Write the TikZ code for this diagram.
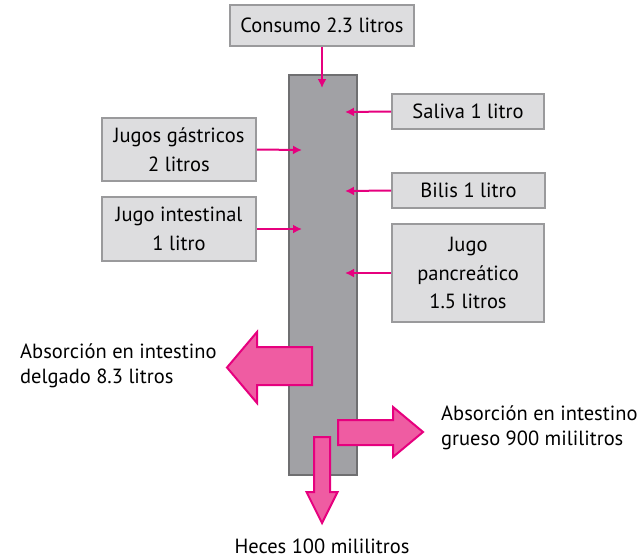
\documentclass[tikz,border=0pt]{standalone}
\usepackage{fontspec}
\setmainfont{PT Sans}
\usetikzlibrary{arrows.meta, positioning}

\definecolor{boxfill}{HTML}{DDDDDF}
\definecolor{boxline}{HTML}{9A9A9C}
\definecolor{tubefill}{HTML}{A1A1A5}
\definecolor{tubeline}{HTML}{6F6F71}
\definecolor{rosa}{HTML}{E6007E}
\definecolor{rosafill}{HTML}{EF5CA2}

\tikzset{
    databox/.style={draw=boxline, fill=boxfill, line width=2pt, align=center, inner sep=0pt,
        font=\fontsize{20.5}{28.5}\selectfont},
    tube/.style={draw=tubeline, fill=tubefill, line width=1.2pt, inner sep=0pt},
    flow/.style={draw=rosa, line width=2pt, -{Latex[length=9pt,width=9pt]}},
    bigarrow/.style={draw=rosa, fill=rosafill, line width=2pt, line join=miter},
    notetext/.style={inner sep=0pt, align=left, font=\fontsize{20.5}{25}\selectfont}
}

\begin{document}
\begin{tikzpicture}[x=1pt, y=-1pt]
    \useasboundingbox (0,0) rectangle (644,558);

    % tubo digestivo
    \node[tube, minimum width=68pt, minimum height=400pt] (tubo) at (323,275) {};

    % entradas
    \node[databox, minimum width=184pt, minimum height=41pt] (consumo) at (322,25.5) {Consumo 2.3 litros};
    \node[databox, minimum width=152pt, minimum height=35pt] (saliva) at (468,111.5) {Saliva 1 litro};
    \node[databox, minimum width=153pt, minimum height=35pt] (bilis) at (468.5,190.5) {Bilis 1 litro};
    \node[databox, minimum width=152pt, minimum height=98pt] (pancreas) at (468,273) {Jugo\\pancreático\\1.5 litros};
    \node[databox, minimum width=154pt, minimum height=63pt] (gastricos) at (179,149.5) {Jugos gástricos\\2 litros};
    \node[databox, minimum width=154pt, minimum height=64pt] (intestinal) at (179,229) {Jugo intestinal\\1 litro};

    \coordinate (inConsumo) at (322,88);
    \coordinate (inSaliva) at (345,112);
    \coordinate (inBilis) at (345,191);
    \coordinate (inPancreas) at (345,273);
    \coordinate (inGastricos) at (302,150);
    \coordinate (inIntestinal) at (302,229);

    \draw[flow] (consumo.south) -- (inConsumo);
    \draw[flow] (saliva.west) -- (inSaliva);
    \draw[flow] (bilis.west) -- (inBilis);
    \draw[flow] (pancreas.west) -- (inPancreas);
    \draw[flow] (gastricos.east) -- (inGastricos);
    \draw[flow] (intestinal.east) -- (inIntestinal);

    % salidas
    \draw[bigarrow] (312,347) -- (257,347) -- (257,332) -- (227,367.5) -- (257,403)
        -- (257,385) -- (312,385) -- cycle;
    \draw[bigarrow] (338,420) -- (393,420) -- (393,407) -- (423,432) -- (393,457)
        -- (393,445) -- (338,445) -- cycle;
    \draw[bigarrow] (314,437) -- (330,437) -- (330,492) -- (337.5,492) -- (322,523)
        -- (306.5,492) -- (314,492) -- cycle;

    \node[notetext, anchor=base west] (delgado) at (20,383) {Absorción en intestino\\delgado 8.3 litros};
    \node[notetext, anchor=base west] (grueso) at (441,445) {Absorción en intestino\\grueso 900 mililitros};
    \node[notetext, anchor=base] (heces) at (322,553) {Heces 100 mililitros};
\end{tikzpicture}
\end{document}
